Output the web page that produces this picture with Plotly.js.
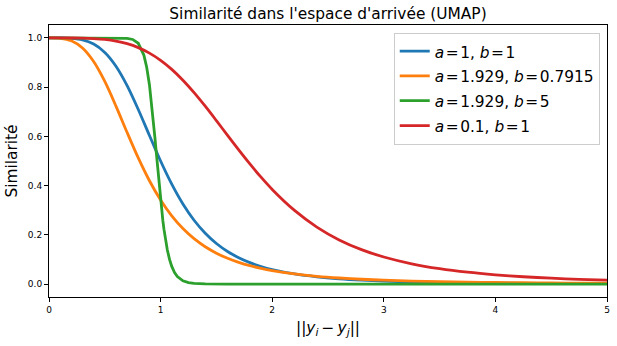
<!DOCTYPE html>
<html>
<head>
<meta charset="utf-8">
<script src="https://cdn.plot.ly/plotly-3.0.1.min.js"></script>
<style>html,body{margin:0;padding:0;background:#fff}#chart{width:617px;height:346px}</style>
</head>
<body>
<div id="chart"></div>
<script>
// Shared distance grid for blue, orange, red curves
const xCommon = [0, 0.1, 0.2, 0.3, 0.4, 0.5, 0.6, 0.7, 0.8, 0.9, 1.0, 1.1, 1.2, 1.3, 1.4, 1.5, 1.6, 1.7, 1.8, 1.9, 2.0,
  2.2, 2.4, 2.6, 2.8, 3.0, 3.25, 3.5, 3.75, 4.0, 4.25, 4.5, 4.75, 5.0];

const yBlue = [1.0, 0.9999, 0.9984, 0.9920, 0.9750, 0.9412, 0.8853, 0.8064, 0.7094, 0.6038, 0.5, 0.4058, 0.3253, 0.2593,
  0.2065, 0.1649, 0.1324, 0.1069, 0.0870, 0.0713, 0.0588, 0.0409, 0.0293, 0.0214, 0.0160, 0.0122, 0.0089, 0.0066,
  0.0050, 0.0039, 0.0031, 0.0024, 0.0020, 0.0016];

const yOrange = [1.0, 0.9987, 0.9883, 0.9591, 0.9041, 0.8231, 0.7232, 0.6159, 0.5124, 0.4198, 0.3414, 0.2771, 0.2254,
  0.1843, 0.1516, 0.1256, 0.1048, 0.0881, 0.0746, 0.0636, 0.0546, 0.0410, 0.0314, 0.0245, 0.0195, 0.0157, 0.0123,
  0.0097, 0.0078, 0.0064, 0.0053, 0.0044, 0.0037, 0.0032];

const yRed = [1.0, 1.0, 0.9998, 0.9992, 0.9974, 0.9938, 0.9872, 0.9766, 0.9607, 0.9384, 0.9091, 0.8723, 0.8283, 0.7778,
  0.7225, 0.6639, 0.6041, 0.5449, 0.4879, 0.4342, 0.3846, 0.2992, 0.2316, 0.1795, 0.1399, 0.1099, 0.0823, 0.0625,
  0.0481, 0.0376, 0.0297, 0.0238, 0.0193, 0.0157];

// Green curve needs a denser grid around its steep drop
const xGreen = [0, 0.5, 0.6, 0.7, 0.75, 0.8, 0.85, 0.875, 0.9, 0.925, 0.95, 0.96, 0.97, 0.98, 0.99, 1.0, 1.01, 1.02,
  1.03, 1.04, 1.05, 1.06, 1.08, 1.1, 1.125, 1.15, 1.2, 1.25, 1.3, 1.4, 1.6, 2.0, 3.0, 4.0, 5.0];
const yGreen = [1.0, 1.0, 0.9999, 0.9985, 0.9939, 0.9783, 0.9304, 0.8822, 0.8100, 0.7114, 0.5912, 0.5398, 0.4881,
  0.4371, 0.3879, 0.3414, 0.2982, 0.2586, 0.2230, 0.1913, 0.1635, 0.1392, 0.1001, 0.0716, 0.0469, 0.0307, 0.0133,
  0.0059, 0.0027, 0.0006, 0.0, 0.0, 0.0, 0.0, 0.0];

const EQ = '\u200A=\u200A';
const seriesNames = [
  '<i>a</i>' + EQ + '1, <i>b</i>' + EQ + '1',
  '<i>a</i>' + EQ + '1.929, <i>b</i>' + EQ + '0.7915',
  '<i>a</i>' + EQ + '1.929, <i>b</i>' + EQ + '5',
  '<i>a</i>' + EQ + '0.1, <i>b</i>' + EQ + '1'
];
const colors = ['#1f77b4', '#ff7f0e', '#2ca02c', '#d62728'];

const FONT = 'DejaVu Sans, sans-serif';
const LEGEND_TEXT_PX = 15.4;

const traces = [
  {x: xCommon, y: yBlue, name: seriesNames[0], line: {color: colors[0], width: 2.8, shape: 'spline', smoothing: 0.8}},
  {x: xCommon, y: yOrange, name: seriesNames[1], line: {color: colors[1], width: 2.8, shape: 'spline', smoothing: 0.8}},
  {x: xGreen, y: yGreen, name: seriesNames[2], line: {color: colors[2], width: 2.8, shape: 'linear'}},
  {x: xCommon, y: yRed, name: seriesNames[3], line: {color: colors[3], width: 2.8, shape: 'spline', smoothing: 0.8}}
].map(t => Object.assign({type: 'scatter', mode: 'lines'}, t,
  {name: '<span style="font-size:' + LEGEND_TEXT_PX + 'px">' + t.name + '</span>'}));

const axisCommon = {
  showline: true, linecolor: '#000', linewidth: 1, mirror: true,
  ticks: 'outside', ticklen: 4, tickwidth: 1, tickcolor: '#000',
  showgrid: false, zeroline: false,
  tickfont: {family: FONT, size: 9, color: '#000'}
};

const layout = {
  width: 617, height: 346,
  margin: {l: 49, r: 10, t: 25, b: 49, pad: 0},
  paper_bgcolor: '#fff', plot_bgcolor: '#fff',
  font: {family: FONT, color: '#000'},
  title: {text: "Similarité dans l'espace d'arrivée (UMAP)", font: {family: FONT, size: 15.4, color: '#000'},
          x: 0.5, xref: 'paper', y: 0.962, yref: 'container', yanchor: 'middle'},
  xaxis: Object.assign({}, axisCommon, {
    range: [0, 5], tickvals: [0, 1, 2, 3, 4, 5],
    title: {text: '||<i>y</i><sub><i>i</i></sub>\u2009−\u2009<i>y</i><sub><i>j</i></sub>||', font: {family: FONT, size: 15.4, color: '#000'}, standoff: 8}
  }),
  yaxis: Object.assign({}, axisCommon, {
    range: [-0.0526, 1.0526], tickvals: [0, 0.2, 0.4, 0.6, 0.8, 1.0], tickformat: '.1f',
    title: {text: 'Similarité', font: {family: FONT, size: 15.4, color: '#000'}, standoff: 6}
  }),
  showlegend: true,
  legend: {
    x: 0.987, xanchor: 'right', y: 0.972, yanchor: 'top',
    bgcolor: 'rgba(255,255,255,0.8)', bordercolor: '#cccccc', borderwidth: 1,
    font: {family: FONT, size: 16.8, color: '#000'},
    tracegroupgap: 0
  }
};

Plotly.newPlot('chart', traces, layout, {staticPlot: true, displayModeBar: false});
</script>
</body>
</html>
